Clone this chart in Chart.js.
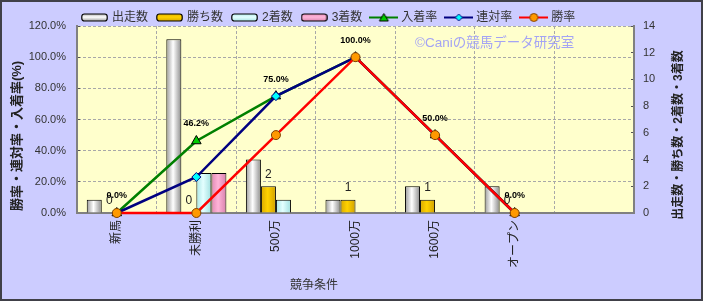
<!DOCTYPE html>
<html>
<head>
<meta charset="utf-8">
<script src="https://cdn.jsdelivr.net/npm/chart.js@4"></script>
<style>
  html, body { margin: 0; padding: 0; background: #ccccff; }
  canvas { display: block; }
</style>
</head>
<body>
<canvas id="chart" width="703" height="301"></canvas>
<script>
const FONT = "'Liberation Sans', 'Noto Sans CJK JP', sans-serif";

const categories = ["新馬", "未勝利", "500万", "1000万", "1600万", "オープン", ""];
const starts = [1, 13, 4, 1, 2, 2, null];
const wins = [0, 0, 2, 1, 1, 0, null];
const seconds = [0, 3, 1, 0, 0, 0, null];
const thirds = [0, 3, 0, 0, 0, 0, null];
const placeRate = [0, 46.2, 75, 100, 50, 0, null];
const quinellaRate = [0, 23.1, 75, 100, 50, 0, null];
const winRate = [0, 0, 50, 100, 50, 0, null];
const rateTicks = [0, 20, 40, 60, 80, 100, 120];
const countTicks = [0, 2, 4, 6, 8, 10, 12, 14];

const GRAY = [[0, "#9a9a9a"], [0.45, "#ffffff"], [1, "#8c8c8c"]];
const GOLD = [[0, "#d8a800"], [0.45, "#ffd200"], [1, "#d0a000"]];
const CYAN = [[0, "#a8e6e6"], [0.45, "#e4ffff"], [1, "#a0e0e0"]];
const PINK = [[0, "#e088b4"], [0.45, "#ffb4d8"], [1, "#d880ac"]];

function barFill(stops) {
  return (c) => {
    const el = c.element;
    if (!el || !isFinite(el.x) || !el.width) return stops[1][1];
    const g = c.chart.ctx.createLinearGradient(el.x - el.width / 2, 0, el.x + el.width / 2, 0);
    stops.forEach((s) => g.addColorStop(s[0], s[1]));
    return g;
  };
}

function barIcon(stops) {
  const cv = document.createElement("canvas");
  cv.width = 27; cv.height = 9;
  const c = cv.getContext("2d");
  const g = c.createLinearGradient(0, 0, 0, 9);
  stops.forEach((s) => g.addColorStop(s[0], s[1]));
  c.fillStyle = g;
  c.strokeStyle = "#000";
  c.lineWidth = 1.2;
  c.beginPath();
  c.roundRect(0.8, 1, 25.4, 7, 2.5);
  c.fill();
  c.stroke();
  return cv;
}

function lineIcon(color, marker, fill, edge) {
  const cv = document.createElement("canvas");
  cv.width = 29; cv.height = 11;
  const c = cv.getContext("2d");
  c.strokeStyle = color;
  c.lineWidth = 2;
  c.beginPath(); c.moveTo(0, 5.5); c.lineTo(29, 5.5); c.stroke();
  c.fillStyle = fill;
  c.strokeStyle = edge;
  c.lineWidth = 1;
  c.beginPath();
  if (marker === "triangle") {
    c.moveTo(14.5, 1.5); c.lineTo(19, 9); c.lineTo(10, 9); c.closePath();
  } else if (marker === "diamond") {
    c.moveTo(14.5, 2); c.lineTo(18, 5.5); c.lineTo(14.5, 9); c.lineTo(11, 5.5); c.closePath();
  } else {
    c.arc(14.5, 5.5, 4, 0, Math.PI * 2);
  }
  c.fill(); c.stroke();
  return cv;
}

const legendItems = [
  { text: "出走数", pointStyle: barIcon(GRAY) },
  { text: "勝ち数", pointStyle: barIcon(GOLD) },
  { text: "2着数", pointStyle: barIcon(CYAN) },
  { text: "3着数", pointStyle: barIcon(PINK) },
  { text: "入着率", pointStyle: lineIcon("#008000", "triangle", "#00cc00", "#000") },
  { text: "連対率", pointStyle: lineIcon("#000080", "diamond", "#00ffff", "#000080") },
  { text: "勝率", pointStyle: lineIcon("#ff0000", "circle", "#ff9900", "#804000") },
].map((it, i) => ({ ...it, datasetIndex: i, hidden: false, lineWidth: 0, fontColor: "#333" }));

const backdrop = {
  id: "backdrop",
  afterLayout(chart) {
    // legend row starts a little right of the canvas edge
    chart.legend.left = 73;
  },
  beforeDraw(chart) {
    const { ctx, chartArea: a } = chart;
    ctx.save();
    ctx.fillStyle = "#ccccff";
    ctx.fillRect(0, 0, chart.width, chart.height);
    ctx.fillStyle = "#ffffcc";
    ctx.fillRect(a.left, a.top, a.right - a.left, a.bottom - a.top);
    ctx.restore();
  },
  afterDraw(chart) {
    const ctx = chart.ctx;
    ctx.save();
    // axis titles and watermark
    ctx.fillStyle = "#333";
    ctx.textAlign = "center";
    ctx.textBaseline = "middle";
    ctx.font = `12px ${FONT}`;
    ctx.fillText("競争条件", 314, 286);
    ctx.fillStyle = "#222";
    ctx.font = `bold 13px ${FONT}`;
    ctx.save(); ctx.translate(17, 136); ctx.rotate(-Math.PI / 2);
    ctx.fillText("勝率・連対率・入着率(%)", 0, 0); ctx.restore();
    ctx.font = `bold 12px ${FONT}`;
    ctx.save(); ctx.translate(679, 135); ctx.rotate(-Math.PI / 2);
    ctx.fillText("出走数・勝ち数・2着数・3着数", 0, 0); ctx.restore();
    ctx.fillStyle = "#a4a4f4";
    ctx.textAlign = "left";
    ctx.font = `13.5px ${FONT}`;
    ctx.fillText("©Caniの競馬データ研究室", 415, 43);
    // frame
    ctx.strokeStyle = "#404048";
    ctx.lineWidth = 2;
    ctx.strokeRect(1, 1, chart.width - 2, chart.height - 2);
    ctx.restore();
  },
};

const valueLabels = {
  id: "valueLabels",
  afterDatasetsDraw(chart) {
    const ctx = chart.ctx;
    ctx.save();
    ctx.textAlign = "center";
    ctx.textBaseline = "middle";
    ctx.fillStyle = "#222";
    ctx.font = `12px ${FONT}`;
    chart.getDatasetMeta(1).data.forEach((bar, i) => {
      if (wins[i] == null) return;
      ctx.fillText(String(wins[i]), bar.x, bar.y - 12);
    });
    ctx.fillStyle = "#000";
    ctx.font = `bold 9px ${FONT}`;
    chart.getDatasetMeta(4).data.forEach((pt, i) => {
      if (placeRate[i] == null) return;
      ctx.fillText(placeRate[i].toFixed(1) + "%", pt.x, pt.y - 17);
    });
    ctx.restore();
  },
};

function barSet(label, data, stops) {
  return {
    type: "bar", label, data, yAxisID: "y2", order: 10,
    backgroundColor: barFill(stops), borderColor: "#000", borderWidth: 1,
    categoryPercentage: 0.755, barPercentage: 1,
  };
}

function lineSet(label, data, color, style, radius, fill, edge, order) {
  return {
    type: "line", label, data, yAxisID: "y", order, clip: false,
    borderColor: color, borderWidth: 2.5, tension: 0,
    pointStyle: style, pointRadius: radius, pointBackgroundColor: fill,
    pointBorderColor: edge, pointBorderWidth: 1,
  };
}

const chart = new Chart(document.getElementById("chart"), {
  type: "bar",
  data: {
    labels: categories,
    datasets: [
      barSet("出走数", starts, GRAY),
      barSet("勝ち数", wins, GOLD),
      barSet("2着数", seconds, CYAN),
      barSet("3着数", thirds, PINK),
      lineSet("入着率", placeRate, "#008000", "triangle", 5.5, "#00cc00", "#000", 3),
      lineSet("連対率", quinellaRate, "#000080", "rectRot", 4.5, "#00ffff", "#000080", 2),
      lineSet("勝率", winRate, "#ff0000", "circle", 4.5, "#ff9900", "#804000", 1),
    ],
  },
  options: {
    responsive: false,
    animation: false,
    events: [],
    layout: { padding: { left: 0, right: 0, top: 1.5, bottom: 0 } },
    plugins: {
      tooltip: { enabled: false },
      legend: {
        align: "start",
        maxHeight: 24.5,
        labels: {
          usePointStyle: true, pointStyleWidth: 23, padding: 10,
          color: "#333", font: { size: 12, family: FONT },
          generateLabels: () => legendItems,
        },
      },
    },
    scales: {
      x: {
        afterFit: (s) => { s.height = 88; },
        grid: { color: "#a8a8a8", drawTicks: false },
        border: { color: "#808080", width: 2, dash: [3, 2] },
        ticks: {
          autoSkip: false, minRotation: 90, maxRotation: 90, padding: 7,
          color: "#222", font: { size: 12, family: FONT },
        },
      },
      y: {
        position: "left", min: 0, max: 120,
        afterFit: (s) => { s.width = 77; },
        afterBuildTicks: (s) => { s.ticks = rateTicks.map((v) => ({ value: v })); },
        grid: { color: "#a8a8a8", tickLength: -3, tickColor: "#555", tickBorderDash: [] },
        border: { color: "#808080", width: 2, dash: [3, 2] },
        ticks: {
          padding: 14, color: "#333", font: { size: 11, family: FONT },
          callback: (v) => v.toFixed(1) + "%",
        },
      },
      y2: {
        position: "right", min: 0, max: 14,
        afterFit: (s) => { s.width = 69; },
        afterBuildTicks: (s) => { s.ticks = countTicks.map((v) => ({ value: v })); },
        grid: { drawOnChartArea: false, tickLength: -3, tickColor: "#555" },
        border: { color: "#808080", width: 2 },
        ticks: { padding: 12, color: "#333", font: { size: 11, family: FONT } },
      },
    },
  },
  plugins: [backdrop, valueLabels],
});
// second pass so the bar gradients can use the laid-out bar positions
chart.update("none");
</script>
</body>
</html>
